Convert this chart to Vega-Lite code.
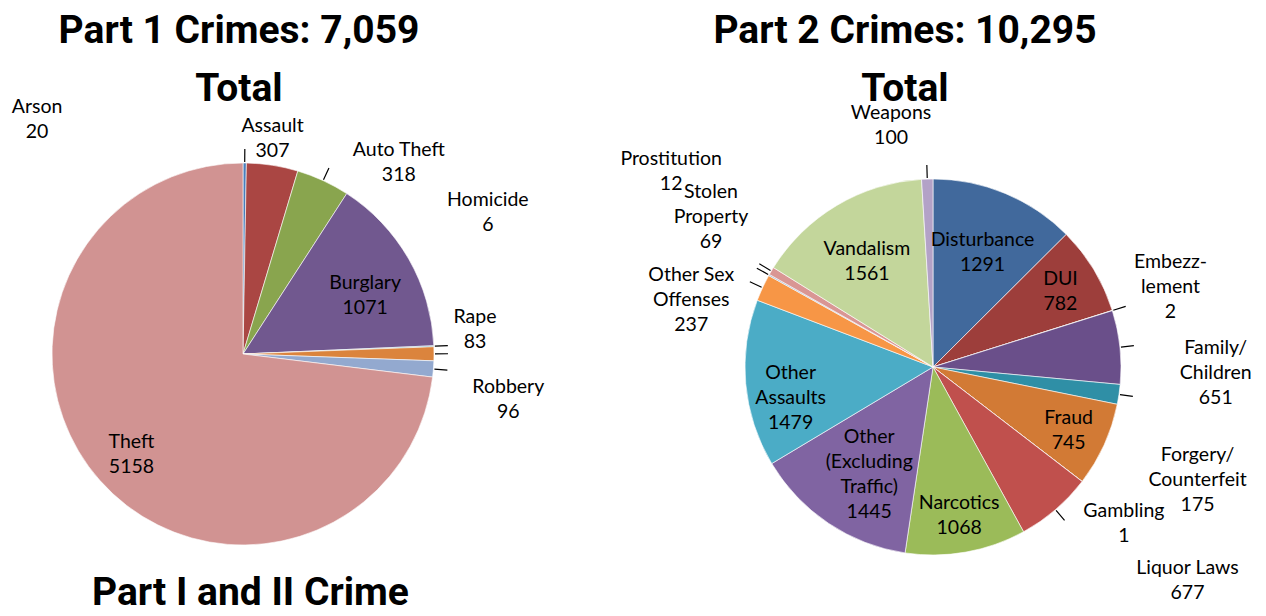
{
  "$schema": "https://vega.github.io/schema/vega-lite/v6.json",
  "padding": {"top": 11, "left": 0, "right": 0, "bottom": 0},
  "background": "#ffffff",
  "spacing": 114,
  "bounds": "flush",
  "resolve": {"scale": {"color": "independent", "theta": "independent"}},
  "config": {
    "view": {"stroke": null},
    "title": {"font": "Roboto", "fontSize": 39, "fontWeight": "bold", "color": "#000000", "lineHeight": 58, "offset": 0},
    "text": {"font": "Lato", "fontSize": 19.5, "lineHeight": 25, "lineBreak": "\n", "color": "#000000", "baseline": "middle", "align": "center"}
  },
  "title": {"text": "Part I and II Crime", "orient": "bottom", "anchor": "start", "dx": 92, "offset": -48},
  "datasets": {
    "part1": [
      {"name": "Arson", "value": 20},
      {"name": "Assault", "value": 307},
      {"name": "Auto Theft", "value": 318},
      {"name": "Burglary", "value": 1071},
      {"name": "Homicide", "value": 6},
      {"name": "Rape", "value": 83},
      {"name": "Robbery", "value": 96},
      {"name": "Theft", "value": 5158}
    ],
    "part2": [
      {"name": "Disturbance", "value": 1291},
      {"name": "DUI", "value": 782},
      {"name": "Embezz-\nlement", "value": 2},
      {"name": "Family/\nChildren", "value": 651},
      {"name": "Forgery/\nCounterfeit", "value": 175},
      {"name": "Fraud", "value": 745},
      {"name": "Gambling", "value": 1},
      {"name": "Liquor Laws", "value": 677},
      {"name": "Narcotics", "value": 1068},
      {"name": "Other\n(Excluding\nTraffic)", "value": 1445},
      {"name": "Other\nAssaults", "value": 1479},
      {"name": "Other Sex\nOffenses", "value": 237},
      {"name": "Prostitution", "value": 12},
      {"name": "Stolen\nProperty", "value": 69},
      {"name": "Vandalism", "value": 1561},
      {"name": "Weapons", "value": 100}
    ]
  },
  "hconcat": [
    {
      "width": 486,
      "height": 484,
      "title": {"text": ["Part 1 Crimes: 7,059", "Total"], "dx": -4, "offset": -12},
      "data": {"name": "part1"},
      "transform": [
        {"window": [{"op": "row_number", "as": "idx"}]},
        {"stack": "value", "groupby": [], "sort": [{"field": "idx", "order": "ascending"}], "offset": "normalize", "as": ["v0", "v1"]},
        {"calculate": "(datum.v0 + datum.v1) / 2", "as": "mid"},
        {"calculate": "datum.name + '\\n' + datum.value", "as": "label"}
      ],
      "layer": [
        {
          "mark": {"type": "arc", "outerRadius": 191, "stroke": "#ffffff", "strokeWidth": 0.6},
          "encoding": {
            "theta": {"field": "v0", "type": "quantitative", "stack": null, "scale": {"domain": [0, 1]}},
            "theta2": {"field": "v1"},
            "color": {
              "field": "name", "type": "nominal", "legend": null,
              "scale": {
                "domain": ["Arson", "Assault", "Auto Theft", "Burglary", "Homicide", "Rape", "Robbery", "Theft"],
                "range": ["#4A7EBB", "#AA4643", "#89A54E", "#71588F", "#4198AF", "#DB843D", "#93A9CF", "#D19392"]
              }
            }
          }
        },
        {
          "transform": [{"filter": {"field": "name", "oneOf": ["Arson", "Auto Theft", "Homicide", "Rape", "Robbery"]}}],
          "mark": {"type": "arc", "innerRadius": 192, "outerRadius": 205, "filled": false, "stroke": "#000000", "strokeWidth": 1.2},
          "encoding": {
            "theta": {"field": "mid", "type": "quantitative", "stack": null, "scale": {"domain": [0, 1]}},
            "theta2": {"field": "mid"}
          }
        },
        {
          "transform": [{"filter": {"field": "name", "equal": "Burglary"}}],
          "mark": {"type": "text", "radius": 135, "dx": 5, "dy": -3.5},
          "encoding": {"theta": {"field": "mid", "type": "quantitative", "stack": null, "scale": {"domain": [0, 1]}}, "text": {"field": "label"}}
        },
        {
          "transform": [{"filter": {"field": "name", "equal": "Theft"}}],
          "mark": {"type": "text", "radius": 149, "dy": -10.5},
          "encoding": {"theta": {"field": "mid", "type": "quantitative", "stack": null, "scale": {"domain": [0, 1]}}, "text": {"field": "label"}}
        },
        {
          "transform": [{"filter": {"field": "name", "equal": "Arson"}}],
          "mark": {"type": "text", "radius": 231, "dx": -208, "dy": -16.5},
          "encoding": {"theta": {"field": "mid", "type": "quantitative", "stack": null, "scale": {"domain": [0, 1]}}, "text": {"field": "label"}}
        },
        {
          "transform": [{"filter": {"field": "name", "equal": "Assault"}}],
          "mark": {"type": "text", "radius": 231, "dx": -6, "dy": 0.5},
          "encoding": {"theta": {"field": "mid", "type": "quantitative", "stack": null, "scale": {"domain": [0, 1]}}, "text": {"field": "label"}}
        },
        {
          "transform": [{"filter": {"field": "name", "equal": "Auto Theft"}}],
          "mark": {"type": "text", "radius": 231, "dx": 59, "dy": 5.5},
          "encoding": {"theta": {"field": "mid", "type": "quantitative", "stack": null, "scale": {"domain": [0, 1]}}, "text": {"field": "label"}}
        },
        {
          "transform": [{"filter": {"field": "name", "equal": "Homicide"}}],
          "mark": {"type": "text", "radius": 231, "dx": 14, "dy": -144.5},
          "encoding": {"theta": {"field": "mid", "type": "quantitative", "stack": null, "scale": {"domain": [0, 1]}}, "text": {"field": "label"}}
        },
        {
          "transform": [{"filter": {"field": "name", "equal": "Rape"}}],
          "mark": {"type": "text", "radius": 231, "dx": 1, "dy": -36.5},
          "encoding": {"theta": {"field": "mid", "type": "quantitative", "stack": null, "scale": {"domain": [0, 1]}}, "text": {"field": "label"}}
        },
        {
          "transform": [{"filter": {"field": "name", "equal": "Robbery"}}],
          "mark": {"type": "text", "radius": 231, "dx": 35, "dy": 14.5},
          "encoding": {"theta": {"field": "mid", "type": "quantitative", "stack": null, "scale": {"domain": [0, 1]}}, "text": {"field": "label"}}
        }
      ]
    },
    {
      "width": 666,
      "height": 510,
      "title": {"text": ["Part 2 Crimes: 10,295", "Total"], "dx": -28, "offset": -6},
      "data": {"name": "part2"},
      "transform": [
        {"window": [{"op": "row_number", "as": "idx"}]},
        {"stack": "value", "groupby": [], "sort": [{"field": "idx", "order": "ascending"}], "offset": "normalize", "as": ["v0", "v1"]},
        {"calculate": "(datum.v0 + datum.v1) / 2", "as": "mid"},
        {"calculate": "datum.name + '\\n' + datum.value", "as": "label"}
      ],
      "layer": [
        {
          "mark": {"type": "arc", "outerRadius": 188, "stroke": "#ffffff", "strokeWidth": 0.6},
          "encoding": {
            "theta": {"field": "v0", "type": "quantitative", "stack": null, "scale": {"domain": [0, 1]}},
            "theta2": {"field": "v1"},
            "color": {
              "field": "name", "type": "nominal", "legend": null,
              "scale": {
                "domain": ["Disturbance", "DUI", "Embezz-\nlement", "Family/\nChildren", "Forgery/\nCounterfeit", "Fraud", "Gambling", "Liquor Laws", "Narcotics", "Other\n(Excluding\nTraffic)", "Other\nAssaults", "Other Sex\nOffenses", "Prostitution", "Stolen\nProperty", "Vandalism", "Weapons"],
                "range": ["#41699C", "#9D3E3B", "#7A953F", "#6A4F8A", "#2F8FA6", "#D27A35", "#4F81BD", "#C0504D", "#9BBB59", "#8064A2", "#4BACC6", "#F79646", "#95B3D7", "#D99694", "#C3D69B", "#B3A2C7"]
              }
            }
          }
        },
        {
          "transform": [{"filter": {"field": "name", "oneOf": ["Weapons", "Prostitution", "Stolen\nProperty", "Other Sex\nOffenses", "Embezz-\nlement", "Family/\nChildren", "Forgery/\nCounterfeit", "Liquor Laws"]}}],
          "mark": {"type": "arc", "innerRadius": 189, "outerRadius": 202, "filled": false, "stroke": "#000000", "strokeWidth": 1.2},
          "encoding": {
            "theta": {"field": "mid", "type": "quantitative", "stack": null, "scale": {"domain": [0, 1]}},
            "theta2": {"field": "mid"}
          }
        },
        {
          "transform": [{"filter": {"field": "name", "oneOf": ["DUI", "Fraud", "Narcotics"]}}],
          "mark": {"type": "text", "radius": 149, "dy": -10.5},
          "encoding": {"theta": {"field": "mid", "type": "quantitative", "stack": null, "scale": {"domain": [0, 1]}}, "text": {"field": "label"}}
        },
        {
          "transform": [{"filter": {"field": "name", "equal": "Other\nAssaults"}}],
          "mark": {"type": "text", "radius": 149, "dx": 6, "dy": -7},
          "encoding": {"theta": {"field": "mid", "type": "quantitative", "stack": null, "scale": {"domain": [0, 1]}}, "text": {"field": "label"}}
        },
        {
          "transform": [{"filter": {"field": "name", "oneOf": ["Disturbance", "Vandalism"]}}],
          "mark": {"type": "text", "radius": 129, "dy": -7.5},
          "encoding": {"theta": {"field": "mid", "type": "quantitative", "stack": null, "scale": {"domain": [0, 1]}}, "text": {"field": "label"}}
        },
        {
          "transform": [{"filter": {"field": "name", "equal": "Other\n(Excluding\nTraffic)"}}],
          "mark": {"type": "text", "radius": 129, "dx": 8, "dy": -37.5},
          "encoding": {"theta": {"field": "mid", "type": "quantitative", "stack": null, "scale": {"domain": [0, 1]}}, "text": {"field": "label"}}
        },
        {
          "transform": [{"filter": {"field": "name", "equal": "Weapons"}}],
          "mark": {"type": "text", "radius": 228, "dx": -35, "dy": -26},
          "encoding": {"theta": {"field": "mid", "type": "quantitative", "stack": null, "scale": {"domain": [0, 1]}}, "text": {"field": "label"}}
        },
        {
          "transform": [{"filter": {"field": "name", "equal": "Embezz-\nlement"}}],
          "mark": {"type": "text", "radius": 228, "dx": 20, "dy": -37},
          "encoding": {"theta": {"field": "mid", "type": "quantitative", "stack": null, "scale": {"domain": [0, 1]}}, "text": {"field": "label"}}
        },
        {
          "transform": [{"filter": {"field": "name", "equal": "Family/\nChildren"}}],
          "mark": {"type": "text", "radius": 228, "dx": 56, "dy": 5},
          "encoding": {"theta": {"field": "mid", "type": "quantitative", "stack": null, "scale": {"domain": [0, 1]}}, "text": {"field": "label"}}
        },
        {
          "transform": [{"filter": {"field": "name", "equal": "Forgery/\nCounterfeit"}}],
          "mark": {"type": "text", "radius": 228, "dx": 39, "dy": 55},
          "encoding": {"theta": {"field": "mid", "type": "quantitative", "stack": null, "scale": {"domain": [0, 1]}}, "text": {"field": "label"}}
        },
        {
          "transform": [{"filter": {"field": "name", "equal": "Gambling"}}],
          "mark": {"type": "text", "radius": 228, "dx": 10, "dy": 5.5},
          "encoding": {"theta": {"field": "mid", "type": "quantitative", "stack": null, "scale": {"domain": [0, 1]}}, "text": {"field": "label"}}
        },
        {
          "transform": [{"filter": {"field": "name", "equal": "Liquor Laws"}}],
          "mark": {"type": "text", "radius": 228, "dx": 106, "dy": 27.5},
          "encoding": {"theta": {"field": "mid", "type": "quantitative", "stack": null, "scale": {"domain": [0, 1]}}, "text": {"field": "label"}}
        },
        {
          "transform": [{"filter": {"field": "name", "equal": "Other Sex\nOffenses"}}],
          "mark": {"type": "text", "radius": 228, "dx": -35, "dy": 4},
          "encoding": {"theta": {"field": "mid", "type": "quantitative", "stack": null, "scale": {"domain": [0, 1]}}, "text": {"field": "label"}}
        },
        {
          "transform": [{"filter": {"field": "name", "equal": "Prostitution"}}],
          "mark": {"type": "text", "radius": 228, "dx": -63, "dy": -96.5},
          "encoding": {"theta": {"field": "mid", "type": "quantitative", "stack": null, "scale": {"domain": [0, 1]}}, "text": {"field": "label"}}
        },
        {
          "transform": [{"filter": {"field": "name", "equal": "Stolen\nProperty"}}],
          "mark": {"type": "text", "radius": 228, "dx": -26, "dy": -59},
          "encoding": {"theta": {"field": "mid", "type": "quantitative", "stack": null, "scale": {"domain": [0, 1]}}, "text": {"field": "label"}}
        }
      ]
    }
  ]
}
